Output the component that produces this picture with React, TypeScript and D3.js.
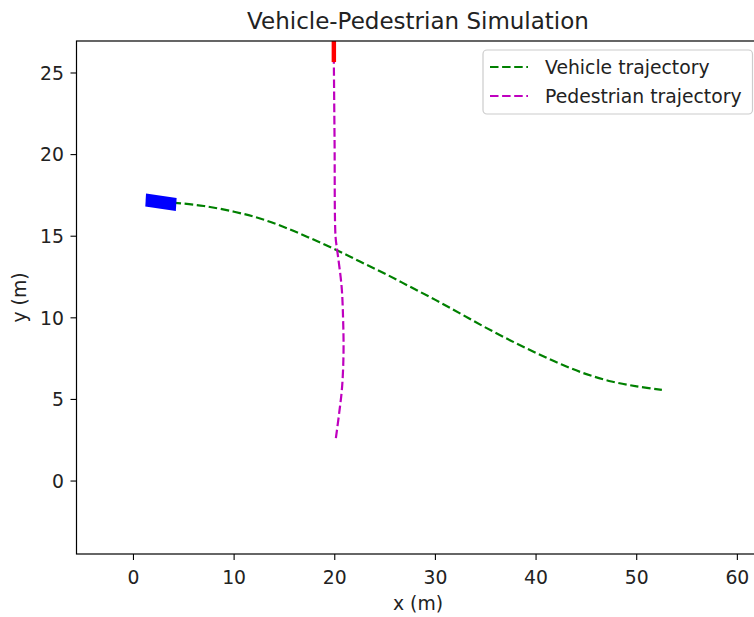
import React from "react";
import * as d3 from "d3";

// Vehicle path (m)
const vehicleX = [2.7, 4.4, 7, 10, 12.5, 15, 17.5, 20, 22.5, 25, 27.5, 30, 32.5, 35, 37.5, 40, 42.5, 45, 47.5, 50, 52.5];
const vehicleY = [17.1, 17.03, 16.85, 16.5, 16.1, 15.55, 14.9, 14.2, 13.45, 12.7, 11.9, 11.1, 10.25, 9.4, 8.6, 7.85, 7.15, 6.55, 6.1, 5.8, 5.58];

// Pedestrian path (m)
const pedX = [20.11, 20.44, 20.73, 20.87, 20.83, 20.68, 20.24, 20.08, 19.98, 19.91];
const pedY = [2.63, 4.17, 5.78, 7.84, 9.87, 11.91, 14.15, 14.95, 20.89, 25.67];

// Vehicle body: centre x, centre y, length, width, heading (deg)
const vehicleBody = [2.73, 17.08, 3.05, 0.8, -5.3];
// Pedestrian body: position x, position y, width, length (heading up)
const pedBody = [19.91, 25.67, 0.44, 2.0];

const xTicks = [0, 10, 20, 30, 40, 50, 60];
const yTicks = [0, 5, 10, 15, 20, 25];
const xDomain = [-5.66, 62.2];
const yDomain = [-4.47, 26.96];

const W = 754;
const H = 617;
const L = 76.5;
const R = 759.5;
const T = 41;
const B = 554;
const FONT = "'DejaVu Sans', sans-serif";
const FS = 18.8;
const TICK = 6;
const DASH = "8.5,3.6";
const LW = 2.2;

export default function App() {
  const x = d3.scaleLinear().domain(xDomain).range([L, R]);
  const y = d3.scaleLinear().domain(yDomain).range([B, T]);

  const line = d3
    .line<[number, number]>()
    .x((d) => x(d[0]))
    .y((d) => y(d[1]))
    .curve(d3.curveCatmullRom.alpha(0.5));

  const vPts = vehicleX.map((v, i) => [v, vehicleY[i]] as [number, number]);
  const pPts = pedX.map((v, i) => [v, pedY[i]] as [number, number]);

  // Vehicle rectangle corners in data space
  const [cx, cy, len, wid, hdg] = vehicleBody;
  const a = (hdg * Math.PI) / 180;
  const ux = Math.cos(a), uy = Math.sin(a);
  const px = -Math.sin(a), py = Math.cos(a);
  const corners = [
    [-len / 2, -wid / 2],
    [len / 2, -wid / 2],
    [len / 2, wid / 2],
    [-len / 2, wid / 2],
  ].map(([s, t]) => [cx + s * ux + t * px, cy + s * uy + t * py]);
  const vehiclePoly = corners.map(([a1, b1]) => `${x(a1)},${y(b1)}`).join(" ");

  const [pbx, pby, pbw, pbl] = pedBody;

  return (
    <svg
      width={W}
      height={H}
      style={{ position: "fixed", left: 0, top: 0, background: "#fff" }}
      fontFamily={FONT}
    >
      <defs>
        <clipPath id="plotArea">
          <rect x={L} y={T} width={R - L} height={B - T} />
        </clipPath>
      </defs>

      <g clipPath="url(#plotArea)">
        <path d={line(vPts) || ""} fill="none" stroke="#008000" strokeWidth={LW} strokeDasharray={DASH} />
        <path d={line(pPts) || ""} fill="none" stroke="#bf00bf" strokeWidth={LW} strokeDasharray={DASH} />
        <polygon points={vehiclePoly} fill="#0000ff" />
        <rect
          x={x(pbx - pbw / 2)}
          y={y(pby + pbl)}
          width={x(pbx + pbw / 2) - x(pbx - pbw / 2)}
          height={y(pby) - y(pby + pbl)}
          fill="#ff0000"
        />
      </g>

      {/* spines */}
      <rect x={L} y={T} width={R - L} height={B - T} fill="none" stroke="#000" strokeWidth={1.2} />

      {/* x axis */}
      {xTicks.map((t) => (
        <g key={"x" + t}>
          <line x1={x(t)} x2={x(t)} y1={B} y2={B + TICK} stroke="#000" strokeWidth={1.1} />
          <text x={x(t)} y={584} textAnchor="middle" fontSize={FS} fill="#222">
            {t}
          </text>
        </g>
      ))}
      {/* y axis */}
      {yTicks.map((t) => (
        <g key={"y" + t}>
          <line x1={L - TICK} x2={L} y1={y(t)} y2={y(t)} stroke="#000" strokeWidth={1.1} />
          <text x={64} y={y(t) + 6.7} textAnchor="end" fontSize={FS} fill="#222">
            {t}
          </text>
        </g>
      ))}

      <text x={(L + R) / 2} y={610} textAnchor="middle" fontSize={FS} fill="#222">
        x (m)
      </text>
      <text
        transform={`translate(26,${(T + B) / 2}) rotate(-90)`}
        textAnchor="middle"
        fontSize={FS}
        fill="#222"
      >
        y (m)
      </text>
      <text x={(L + R) / 2} y={28.5} textAnchor="middle" fontSize={23} fill="#222">
        Vehicle-Pedestrian Simulation
      </text>

      {/* legend */}
      <g>
        <rect x={483} y={50} width={269.5} height={64} rx={4} fill="#fff" fillOpacity={0.8} stroke="#cccccc" strokeWidth={1.2} />
        <line x1={490} x2={528} y1={67} y2={67} stroke="#008000" strokeWidth={LW} strokeDasharray={DASH} />
        <text x={545} y={73.5} fontSize={FS} fill="#222">
          Vehicle trajectory
        </text>
        <line x1={490} x2={528} y1={96} y2={96} stroke="#bf00bf" strokeWidth={LW} strokeDasharray={DASH} />
        <text x={545} y={102.5} fontSize={FS} fill="#222">
          Pedestrian trajectory
        </text>
      </g>
    </svg>
  );
}
